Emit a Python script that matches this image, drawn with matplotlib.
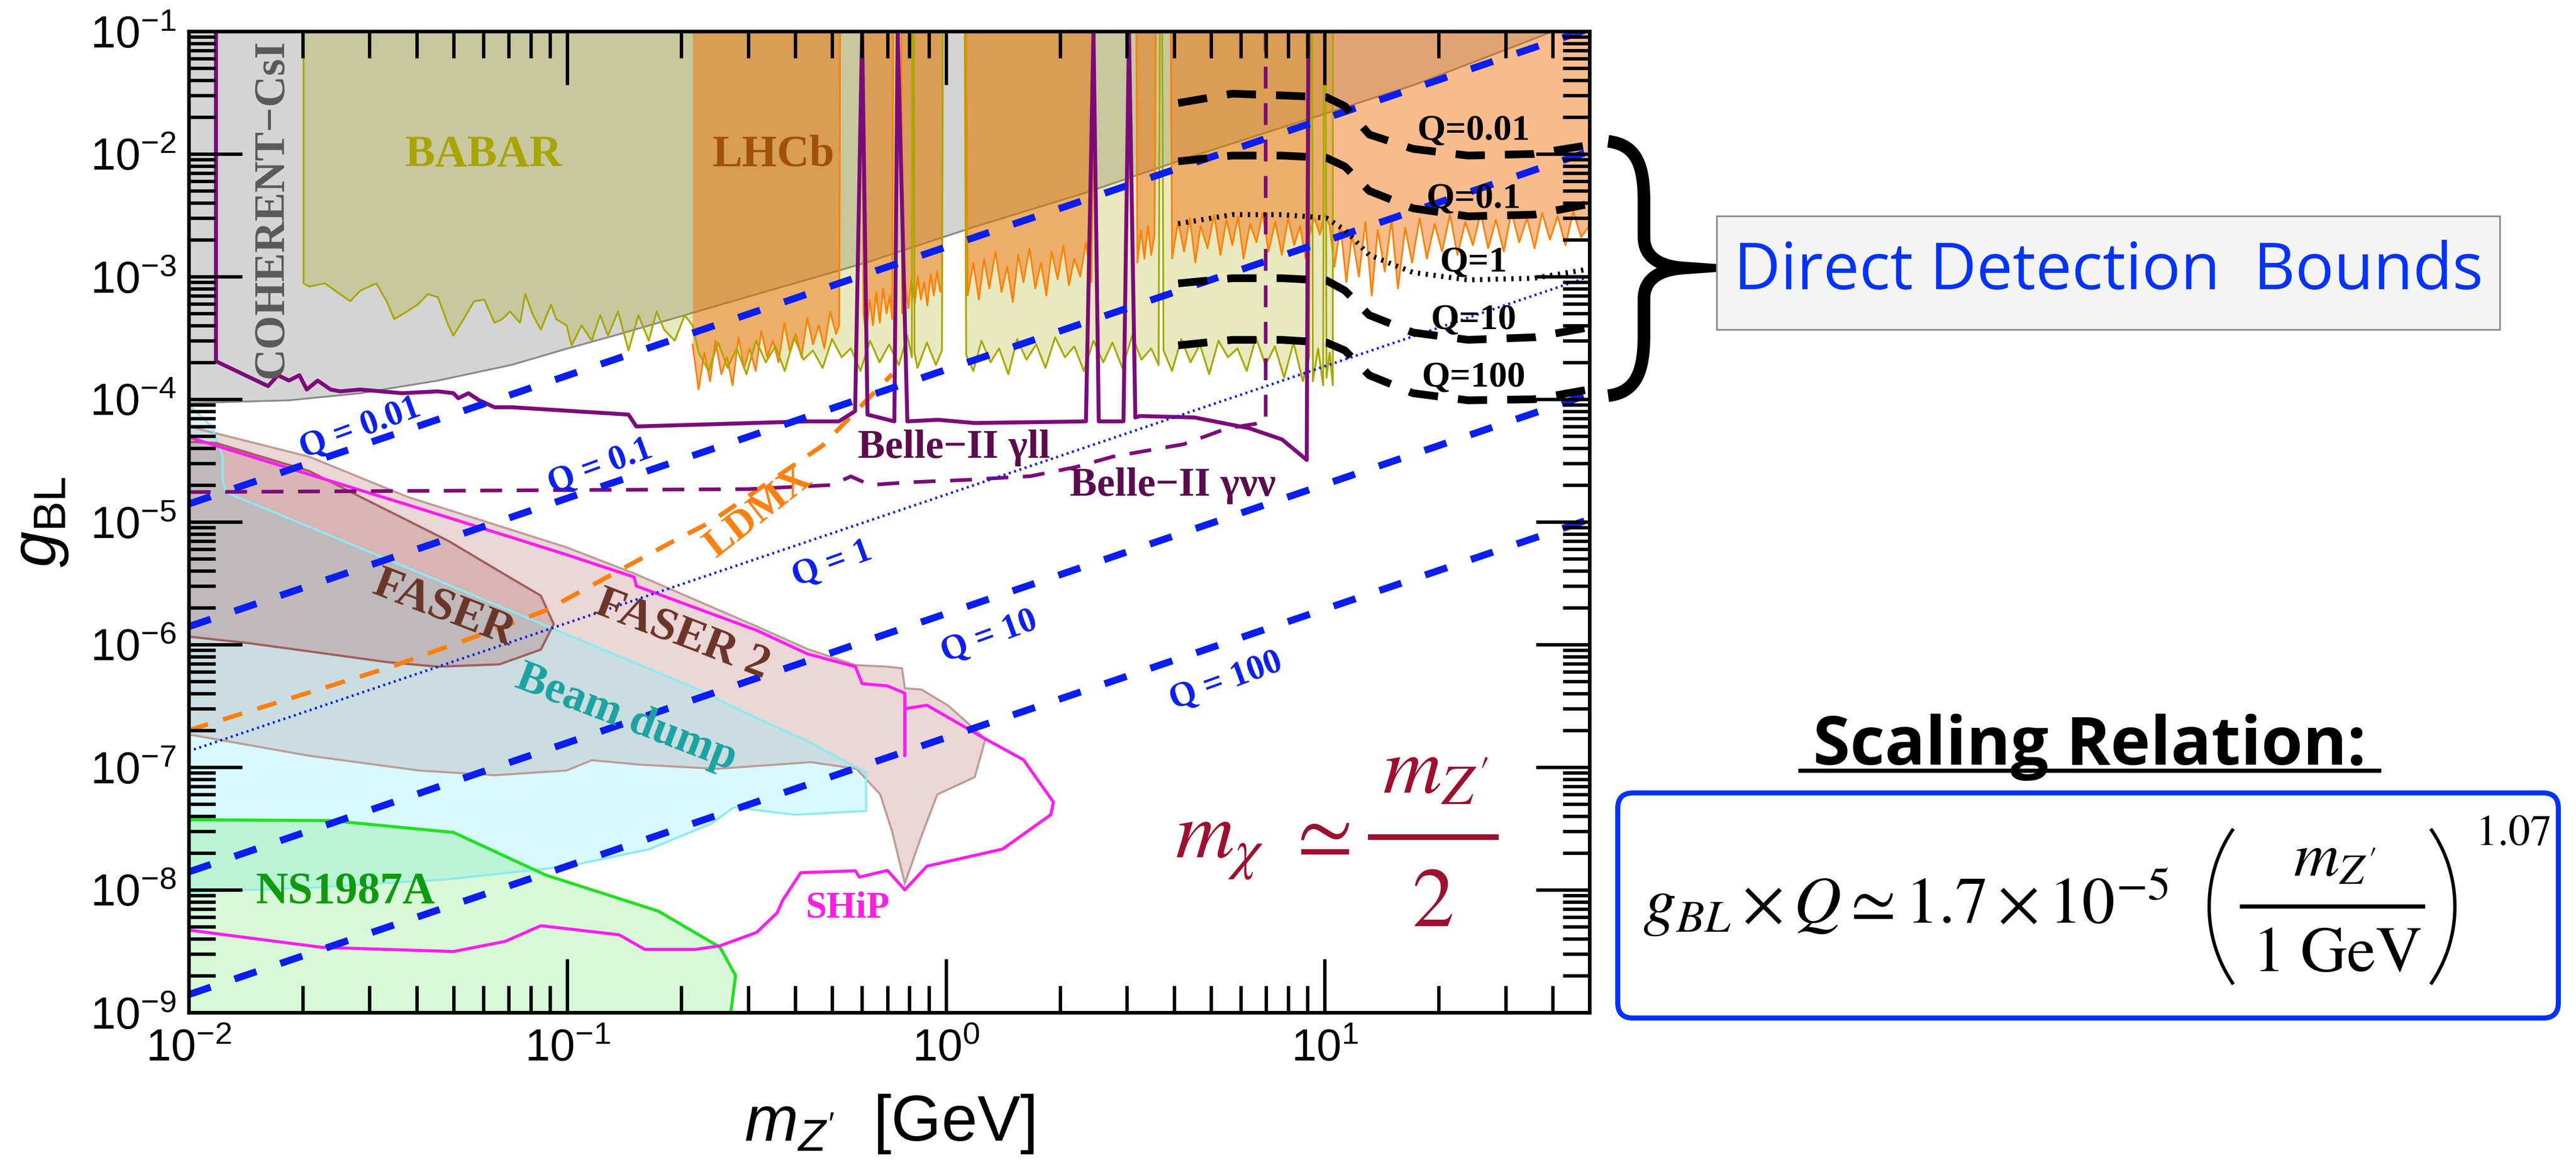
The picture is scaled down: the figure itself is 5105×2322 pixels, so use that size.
import matplotlib
matplotlib.use('Agg')
import matplotlib.pyplot as plt
from matplotlib.path import Path
from matplotlib.patches import PathPatch, Rectangle, FancyBboxPatch, Polygon
from matplotlib.lines import Line2D
from matplotlib.transforms import IdentityTransform
from matplotlib.ticker import LogLocator, NullFormatter, FixedLocator

W, H, DPI = 5105, 2322, 200

plt.rcParams['font.family'] = ['Liberation Sans', 'DejaVu Sans']
plt.rcParams['mathtext.fontset'] = 'custom'
plt.rcParams['mathtext.rm'] = 'Liberation Sans'
plt.rcParams['mathtext.it'] = 'Liberation Sans:italic'
plt.rcParams['mathtext.bf'] = 'Liberation Sans:bold'
SERIF = ['Liberation Serif', 'DejaVu Serif']

# ---------------- values (m_Z' in GeV, g_BL) ----------------
coh_m = [0.01, 0.0184, 0.0284, 0.0455, 0.0714, 0.0995, 0.136, 0.211, 0.317, 0.615,
         1.19, 2.32, 4.53, 8.83, 17.2, 35.7, 40.0]
coh_g = [9.3e-5, 9.8e-5, 1.12e-4, 1.42e-4, 1.91e-4, 2.58e-4, 3.37e-4, 5.0e-4, 7.2e-4, 1.3e-3,
         2.55e-3, 4.8e-3, 9.7e-3, 1.88e-2, 3.65e-2, 8.7e-2, 1.0e-1]

babar_m = [0.0201, 0.0201, 0.0208, 0.0229, 0.0251, 0.0267, 0.0284, 0.0313, 0.0333, 0.0349,
           0.0377, 0.0402, 0.0428, 0.0455, 0.0485, 0.0500, 0.0532, 0.0567, 0.0603, 0.0642,
           0.0673, 0.0705, 0.0750, 0.0774, 0.0811, 0.0851, 0.0905, 0.0934, 0.0995, 0.1026,
           0.109, 0.116, 0.122, 0.128, 0.136, 0.145, 0.154, 0.164, 0.172, 0.180, 0.192, 0.204, 0.214,
           0.222, 0.236, 0.250, 0.265, 0.280, 0.297, 0.315, 0.334, 0.354, 0.375,
           0.397, 0.420, 0.445, 0.472, 0.500, 0.530, 0.560, 0.594, 0.630, 0.667, 0.707, 0.750, 0.790,
           0.812, 0.815, 0.822, 0.825,
           0.840, 0.890, 0.940, 0.975,
           0.980, 1.120,
           1.130, 1.18, 1.24, 1.31, 1.38, 1.46, 1.54, 1.63, 1.73, 1.83,
           1.94, 2.06, 2.18, 2.31, 2.45, 2.60, 2.75, 2.92, 3.10, 3.28, 3.48, 3.64,
           3.67, 3.72,
           3.75, 3.95, 4.18, 4.42, 4.68, 4.95, 5.24, 5.55, 5.88, 6.22,
           6.58, 6.97, 7.38, 7.81, 8.27, 8.75, 9.10,
           9.15, 9.25,
           9.30, 9.60, 9.90,
           9.95, 10.05,
           10.1, 10.3, 10.5, 10.5]
babar_g = [0.1, 8.8e-4, 8.3e-4, 8.8e-4, 7.2e-4, 6.3e-4, 7.7e-4, 8.8e-4, 6.3e-4, 4.5e-4,
           5.2e-4, 5.9e-4, 7.2e-4, 6.8e-4, 4.0e-4, 3.3e-4, 4.5e-4, 6.3e-4, 6.5e-4, 4.2e-4,
           4.5e-4, 5.2e-4, 4.2e-4, 7.2e-4, 4.85e-4, 3.7e-4, 5.9e-4, 4.5e-4, 4.0e-4, 2.75e-4,
           4.0e-4, 3.0e-4, 4.85e-4, 3.3e-4, 5.2e-4, 2.5e-4, 4.85e-4, 3.0e-4, 5.2e-4, 3.7e-4, 3.0e-4, 4.85e-4, 4.0e-4,
           2.4e-4, 1.7e-4, 2.9e-4, 1.8e-4, 2.6e-4, 1.6e-4, 3.0e-4, 2.0e-4, 2.7e-4, 1.7e-4,
           3.2e-4, 2.1e-4, 2.5e-4, 1.8e-4, 3.1e-4, 2.2e-4, 2.6e-4, 1.7e-4, 3.0e-4, 2.0e-4, 2.8e-4, 1.9e-4, 3.3e-4,
           2.2e-4, 0.1, 0.1, 2.4e-4,
           1.8e-4, 2.9e-4, 1.9e-4, 2.5e-4,
           0.1, 0.1,
           2.3e-4, 1.7e-4, 3.0e-4, 2.0e-4, 2.6e-4, 1.6e-4, 3.1e-4, 2.1e-4, 2.8e-4, 1.8e-4,
           3.2e-4, 2.2e-4, 2.7e-4, 1.7e-4, 3.0e-4, 2.0e-4, 2.9e-4, 1.8e-4, 3.3e-4, 2.1e-4, 2.6e-4, 1.9e-4,
           0.1, 0.1,
           2.5e-4, 1.7e-4, 3.1e-4, 2.0e-4, 2.8e-4, 1.6e-4, 3.0e-4, 2.2e-4, 2.6e-4, 1.7e-4,
           3.2e-4, 1.9e-4, 2.7e-4, 1.5e-4, 2.9e-4, 1.4e-4, 2.2e-4,
           0.1, 0.1,
           1.4e-4, 2.6e-4, 1.3e-4,
           0.1, 0.1,
           1.5e-4, 2.4e-4, 1.3e-4, 0.1]

lhcb_m = [0.214, 0.222, 0.230, 0.238, 0.246, 0.255, 0.264, 0.273, 0.283, 0.293,
          0.303, 0.314, 0.325, 0.337, 0.349, 0.361, 0.374, 0.387, 0.401, 0.415,
          0.430, 0.445, 0.461, 0.477, 0.494, 0.512,
          0.522, 0.525, 0.600, 0.605,
          0.615, 0.628, 0.641, 0.654, 0.668, 0.682, 0.696, 0.710, 0.720,
          0.725, 0.762,
          0.765, 0.780, 0.795, 0.810, 0.826, 0.842, 0.858, 0.875, 0.892, 0.910, 0.928, 0.946, 0.965, 0.975,
          0.980, 1.130,
          1.14, 1.18, 1.22, 1.26, 1.30, 1.35, 1.40, 1.45, 1.50, 1.55, 1.60, 1.66, 1.72, 1.78, 1.84,
          1.90, 1.97, 2.04, 2.11, 2.18, 2.26, 2.34, 2.42,
          2.47, 3.18,
          3.20, 3.27, 3.34, 3.41, 3.48, 3.55,
          3.58, 3.92,
          3.95, 4.10, 4.25, 4.40, 4.55, 4.70, 4.90, 5.10, 5.30, 5.50, 5.70, 5.90,
          6.10, 6.35, 6.60, 6.85, 7.10, 7.40, 7.70, 8.00, 8.30, 8.60, 8.90, 9.20,
          9.40, 9.70, 10.0, 10.3,
          10.6, 11.0, 11.4, 11.8, 12.3, 12.8, 13.3, 13.8, 14.4, 15.0, 15.6, 16.3,
          17.0, 17.8, 18.6, 19.5, 20.4, 21.4, 22.4, 23.5, 24.6, 25.8, 27.0, 28.3,
          29.7, 31.1, 32.6, 34.2, 35.8, 37.5, 39.3, 41.2, 43.2, 45.3, 47.5, 50.0]
lhcb_g = [2.8e-4, 1.2e-4, 2.4e-4, 1.4e-4, 3.0e-4, 1.6e-4, 2.2e-4, 1.3e-4, 3.2e-4, 1.8e-4,
          2.6e-4, 1.7e-4, 3.6e-4, 2.2e-4, 3.0e-4, 2.0e-4, 4.2e-4, 2.4e-4, 3.4e-4, 2.2e-4,
          4.6e-4, 2.8e-4, 4.0e-4, 2.6e-4, 5.2e-4, 3.4e-4,
          4.0e-4, 0.1, 0.1, 5.0e-4,
          3.2e-4, 6.5e-4, 4.0e-4, 7.5e-4, 4.2e-4, 8.0e-4, 5.0e-4, 7.0e-4, 4.5e-4,
          0.1, 0.1,
          5.0e-4, 8.5e-4, 5.5e-4, 9.5e-4, 6.0e-4, 1.0e-3, 6.5e-4, 9.0e-4, 5.8e-4, 1.05e-3, 7.0e-4, 1.1e-3, 7.5e-4, 9.0e-4,
          0.1, 0.1,
          7.0e-4, 1.3e-3, 6.5e-4, 1.4e-3, 8.0e-4, 1.6e-3, 7.5e-4, 1.2e-3, 6.2e-4, 1.5e-3, 9.0e-4, 1.7e-3, 8.0e-4, 1.3e-3, 7.0e-4,
          1.6e-3, 9.5e-4, 1.8e-3, 8.5e-4, 1.4e-3, 1.0e-3, 1.9e-3, 9.0e-4,
          0.1, 0.1,
          1.3e-3, 2.4e-3, 1.4e-3, 2.6e-3, 1.5e-3, 2.2e-3,
          0.1, 0.1,
          1.4e-3, 2.8e-3, 1.6e-3, 3.0e-3, 1.3e-3, 2.6e-3, 1.7e-3, 3.2e-3, 1.5e-3, 2.9e-3, 1.8e-3, 3.1e-3,
          1.4e-3, 2.7e-3, 1.9e-3, 3.3e-3, 1.6e-3, 2.8e-3, 1.5e-3, 3.0e-3, 1.8e-3, 2.6e-3, 1.4e-3, 2.5e-3,
          3.0e-3, 2.2e-3, 3.2e-3, 2.6e-3,
          1.2e-3, 2.6e-3, 9.0e-4, 2.2e-3, 1.0e-3, 2.8e-3, 7.0e-4, 2.4e-3, 1.1e-3, 2.9e-3, 8.0e-4, 2.5e-3,
          1.3e-3, 3.0e-3, 1.4e-3, 2.7e-3, 1.6e-3, 3.2e-3, 1.5e-3, 2.8e-3, 1.8e-3, 3.3e-3, 1.7e-3, 2.9e-3,
          1.6e-3, 3.4e-3, 1.9e-3, 3.0e-3, 1.7e-3, 3.3e-3, 2.0e-3, 3.1e-3, 1.8e-3, 3.4e-3, 2.1e-3, 2.6e-3]

belle_ll_m = [0.0118, 0.0118, 0.0162, 0.0172, 0.0184, 0.0196, 0.0205, 0.0219, 0.0237, 0.0251,
              0.0284, 0.0366, 0.0455, 0.050, 0.0515, 0.0548, 0.0585, 0.0642, 0.0714, 0.145,
              0.152, 0.43, 0.521, 0.575, 0.600, 0.62, 0.73, 0.745, 0.79, 0.95, 1.19, 2.34,
              2.45, 2.53, 2.94, 3.04, 3.16, 3.25, 4.53, 6.32, 7.71, 8.96, 9.05]
belle_ll_g = [0.1, 2.04e-4, 1.28e-4, 1.57e-4, 1.42e-4, 1.57e-4, 1.2e-4, 1.42e-4, 1.2e-4, 1.16e-4,
              1.2e-4, 1.12e-4, 1.16e-4, 1.12e-4, 1.02e-4, 1.12e-4, 9.8e-5, 8.6e-5, 8.6e-5, 7.5e-5,
              6.0e-5, 6.6e-5, 6.6e-5, 8.0e-5, 0.1, 7.5e-5, 6.6e-5, 0.1, 6.6e-5, 6.8e-5, 6.4e-5, 6.6e-5,
              0.1, 6.6e-5, 6.6e-5, 0.1, 7.1e-5, 7.3e-5, 7.1e-5, 5.8e-5, 4.7e-5, 3.2e-5, 0.1]

belle_nn_m = [0.01, 0.3, 0.5, 0.56, 0.63, 0.79, 1.13, 1.67, 2.2, 2.75, 4.24, 5.53, 6.98, 6.98]
belle_nn_g = [1.75e-5, 1.85e-5, 2.0e-5, 2.35e-5, 2.0e-5, 2.1e-5, 2.2e-5, 2.36e-5, 2.8e-5, 3.4e-5,
              4.3e-5, 5.8e-5, 6.5e-5, 0.1]

ldmx_m = [0.01, 0.0343, 0.0633, 0.0877, 0.186, 0.239, 0.472, 0.557, 0.72]
ldmx_g = [2.0e-7, 6.6e-7, 1.3e-6, 1.9e-6, 6.7e-6, 1.0e-5, 4.2e-5, 7.1e-5, 1.6e-4]

faser2_m = [0.01, 0.0208, 0.0378, 0.0995, 0.15, 0.317, 0.43, 0.576, 0.70, 0.765, 0.778, 0.86,
            1.01, 1.27, 1.19, 0.948, 0.859, 0.778, 0.72, 0.67, 0.58, 0.44, 0.248, 0.155,
            0.116, 0.0995, 0.0642, 0.0405, 0.0208, 0.01]
faser2_g = [6.0e-5, 3.4e-5, 1.6e-5, 6.2e-6, 3.8e-6, 1.4e-6, 9.2e-7, 6.8e-7, 6.6e-7, 6.4e-7, 4.4e-7, 4.3e-7,
            3.2e-7, 1.7e-7, 8.3e-8, 6.0e-8, 2.7e-8, 1.13e-8, 3.0e-8, 6.0e-8, 9.7e-8, 1.1e-7, 9.7e-8, 1.05e-7,
            1.14e-7, 9.4e-8, 8.6e-8, 9.4e-8, 1.24e-7, 1.85e-7]

faser_m = [0.01, 0.0118, 0.0208, 0.0284, 0.0485, 0.064, 0.0851, 0.092, 0.0851, 0.0662, 0.0455,
           0.0333, 0.0208, 0.0143, 0.01]
faser_g = [4.5e-5, 4.4e-5, 2.6e-5, 1.6e-5, 7.0e-6, 4.2e-6, 2.5e-6, 1.47e-6, 9.1e-7, 6.9e-7, 6.6e-7,
           7.2e-7, 8.8e-7, 1.03e-6, 1.16e-6]

bdump_m = [0.01, 0.01, 0.0115, 0.0123, 0.0123, 0.0125, 0.0313, 0.218, 0.317, 0.43, 0.615, 0.615,
           0.40, 0.275, 0.239, 0.164, 0.0995, 0.0485, 0.0208, 0.01]
bdump_g = [9.6e-9, 9.0e-5, 6.0e-5, 3.4e-5, 2.2e-5, 1.75e-5, 5.4e-6, 4.4e-7, 2.5e-7, 1.64e-7, 9.0e-8, 4.4e-8,
           4.1e-8, 4.7e-8, 3.45e-8, 2.14e-8, 1.55e-8, 1.22e-8, 1.04e-8, 9.6e-9]

ns_m = [0.01, 0.0237, 0.050, 0.0877, 0.174, 0.253, 0.278, 0.27]
ns_g = [3.73e-8, 3.67e-8, 2.94e-8, 1.32e-8, 6.7e-9, 3.4e-9, 2.0e-9, 1.0e-9]

ship_m = [0.01, 0.0378, 0.0995, 0.150, 0.152, 0.317, 0.43, 0.576, 0.60, 0.70, 0.765, 0.778, 0.778,
          0.778, 0.89, 1.27, 1.60, 1.92, 1.89, 1.41, 0.89, 0.778, 0.70, 0.59, 0.576, 0.413, 0.37,
          0.358, 0.316, 0.253, 0.218, 0.160, 0.137, 0.0851, 0.0685, 0.050, 0.0224, 0.01]
ship_g = [4.9e-5, 1.38e-5, 5.4e-6, 3.55e-6, 3.0e-6, 1.3e-6, 8.4e-7, 6.6e-7, 4.8e-7, 4.6e-7, 4.1e-7, 4.0e-7, 1.24e-7,
          3.0e-7, 3.2e-7, 1.7e-7, 1.15e-7, 5.2e-8, 4.1e-8, 2.15e-8, 1.56e-8, 1.0e-8, 1.44e-8, 1.27e-8, 1.43e-8, 1.38e-8, 8.2e-9,
          6.5e-9, 4.5e-9, 3.5e-9, 3.27e-9, 3.27e-9, 4.3e-9, 5.1e-9, 3.8e-9, 3.14e-9, 3.4e-9, 4.7e-9]

# charge-scaled lines g*Q ~ const * m^1.07, read at both ends of the x range
q_labels = ['Q = 0.01', 'Q = 0.1', 'Q = 1', 'Q = 10', 'Q = 100']
q_end_m = [0.01, 50.0]
q_g_lo = [1.4e-5, 1.4e-6, 1.35e-7, 1.4e-8, 1.4e-9]
q_g_hi = [1.05e-1, 1.05e-2, 1.0e-3, 1.1e-4, 1.05e-5]
q_label_m = [0.0284, 0.122, 0.50, 1.30, 5.48]
q_label_g = [5.8e-5, 2.8e-5, 4.5e-6, 1.16e-6, 5.0e-7]

# direct detection bounds for several Q
dd_labels = ['Q=0.01', 'Q=0.1', 'Q=1', 'Q=10', 'Q=100']
dd_m = [4.1, 5.7, 7.7, 10.1, 11.3, 13.1, 17.1, 23.9, 35.7, 49.7]
dd_g = [[2.6e-2, 3.1e-2, 3.0e-2, 2.9e-2, 2.45e-2, 1.44e-2, 1.1e-2, 9.7e-3, 1.0e-2, 1.18e-2],
        [8.7e-3, 9.7e-3, 9.7e-3, 9.3e-3, 7.9e-3, 5.0e-3, 3.6e-3, 3.1e-3, 3.2e-3, 3.9e-3],
        [2.7e-3, 3.2e-3, 3.2e-3, 3.0e-3, 2.4e-3, 1.5e-3, 1.08e-3, 9.4e-4, 9.7e-4, 1.15e-3],
        [8.8e-4, 9.7e-4, 9.7e-4, 9.3e-4, 7.7e-4, 4.85e-4, 3.5e-4, 3.05e-4, 3.2e-4, 3.85e-4],
        [2.75e-4, 3.05e-4, 3.05e-4, 2.9e-4, 2.5e-4, 1.57e-4, 1.12e-4, 9.8e-5, 1.0e-4, 1.2e-4]]
dd_label_m = 24.7
dd_label_g = [1.54e-2, 4.3e-3, 1.3e-3, 4.4e-4, 1.5e-4]

# ---------------- figure ----------------
fig = plt.figure(figsize=(W / DPI, H / DPI), dpi=DPI)
ax = fig.add_axes([374 / W, 1 - 2006 / H, 2776 / W, 1944 / H])
ax.set_xscale('log')
ax.set_yscale('log')
ax.set_xlim(1e-2, 50)
ax.set_ylim(1e-9, 1e-1)

# upper exclusion regions
ax.fill_between(coh_m, coh_g, 0.1, color='#9a9a9a', alpha=0.42, lw=0, zorder=1)
ax.plot(coh_m, coh_g, color='#8a8a8a', lw=1.3, zorder=1.2)
ax.fill_between(babar_m, babar_g, 0.1, color='#a8a800', alpha=0.25, lw=0, zorder=1.5)
ax.fill_between(lhcb_m, lhcb_g, 0.1, color='#f06a00', alpha=0.45, lw=0, zorder=1.6)
ax.plot(lhcb_m, lhcb_g, color='#ff8000', lw=1.2, zorder=3)
ax.plot(babar_m, babar_g, color='#a8a800', lw=1.3, zorder=3.1)

# lower exclusion regions
ax.add_patch(Polygon(list(zip(faser2_m, faser2_g)), closed=True, fc='#c07878', alpha=0.3, lw=0, zorder=2))
ax.add_patch(Polygon(list(zip(bdump_m, bdump_g)), closed=True, fc='#80f0f8', alpha=0.3, lw=0, zorder=2.1))
ax.add_patch(Polygon(list(zip(faser_m, faser_g)), closed=True, fc='#a05050', alpha=0.25, lw=0, zorder=2.2))
ax.fill_between(ns_m, ns_g, 1e-9, color='#60e860', alpha=0.25, lw=0, zorder=2.3)
ax.add_patch(Polygon(list(zip(faser2_m, faser2_g)), closed=True, fill=False, ec='#c09c98', lw=1.5, zorder=3))
ax.add_patch(Polygon(list(zip(bdump_m, bdump_g)), closed=True, fill=False, ec='#88ecf2', lw=1.5, zorder=3))
ax.add_patch(Polygon(list(zip(faser_m, faser_g)), closed=True, fill=False, ec='#a0605c', lw=1.6, zorder=3))
ax.plot(ns_m, ns_g, color='#22e022', lw=2.2, zorder=3.2)
ax.plot(ship_m, ship_g, color='#ff1ef0', lw=2.2, zorder=3.3)

# projections / bounds lines
ax.plot(ldmx_m, ldmx_g, color='#ff8010', lw=3.2, dashes=(4.5, 3.5), zorder=4)
ax.plot(belle_ll_m, belle_ll_g, color='#7d0a7a', lw=2.8, zorder=4.1)
ax.plot(belle_nn_m, belle_nn_g, color='#7d0a7a', lw=2.6, dashes=(6, 4), zorder=4.1)

for i, lab in enumerate(q_labels):
    gg = [q_g_lo[i], q_g_hi[i]]
    if lab == 'Q = 1':
        ax.plot(q_end_m, gg, color='#0a1ef0', lw=1.8, dashes=(0.8, 1.4), zorder=5)
    else:
        ax.plot(q_end_m, gg, color='#0a1ef0', lw=5, dashes=(3.3, 3.6), zorder=5)
    ax.text(q_label_m[i], q_label_g[i], lab, color='#0a1ef0', fontsize=25, fontweight='bold',
            family=SERIF, rotation=20, ha='center', va='center', rotation_mode='anchor', zorder=6)

for i, lab in enumerate(dd_labels):
    if lab == 'Q=1':
        ax.plot(dd_m, dd_g[i], color='k', lw=3.6, dashes=(0.45, 1.1), zorder=5)
    else:
        ax.plot(dd_m, dd_g[i], color='k', lw=5.5, dashes=(3.8, 2.6), zorder=5)
    ax.text(dd_label_m, dd_label_g[i], lab, color='k', fontsize=26, fontweight='bold', family=SERIF,
            ha='center', va='center', zorder=6)

# region labels
lab_kw = dict(fontweight='bold', family=SERIF, ha='center', va='center', zorder=6, rotation_mode='anchor')
ax.text(0.0166, 3.6e-3, 'COHERENT\u2212CsI', color='#5a5a5a', fontsize=31, rotation=90, **lab_kw)
ax.text(0.060, 9.8e-3, 'BABAR', color='#a8a400', fontsize=32, **lab_kw)
ax.text(0.35, 9.8e-3, 'LHCb', color='#a0520a', fontsize=32, **lab_kw)
ax.text(1.05, 4.0e-5, 'Belle\u2212II \u03b3ll', color='#5c0b4e', fontsize=29, **lab_kw)
ax.text(3.97, 1.97e-5, 'Belle\u2212II \u03b3\u03bd\u03bd', color='#5c0b4e', fontsize=29, **lab_kw)
ax.text(0.32, 1.2e-5, 'LDMX', color='#ff8010', fontsize=29, rotation=38, **lab_kw)
ax.text(0.0472, 1.95e-6, 'FASER', color='#6b3528', fontsize=33, rotation=-21, **lab_kw)
ax.text(0.201, 1.2e-6, 'FASER 2', color='#6b3528', fontsize=33, rotation=-21, **lab_kw)
ax.text(0.143, 2.5e-7, 'Beam dump', color='#1aa3a3', fontsize=32, rotation=-21, **lab_kw)
ax.text(0.0259, 9.6e-9, 'NS1987A', color='#109a10', fontsize=32, **lab_kw)
ax.text(0.548, 7.1e-9, 'SHiP', color='#ff1ee0', fontsize=27, **lab_kw)

# axes styling
ax.xaxis.set_major_locator(FixedLocator([1e-2, 1e-1, 1, 10]))
ax.xaxis.set_minor_locator(LogLocator(base=10, subs=range(2, 10), numticks=20))
ax.yaxis.set_major_locator(LogLocator(base=10, numticks=20))
ax.yaxis.set_minor_locator(LogLocator(base=10, subs=range(2, 10), numticks=20))
ax.xaxis.set_minor_formatter(NullFormatter())
ax.yaxis.set_minor_formatter(NullFormatter())
ax.tick_params(which='both', direction='in', top=True, right=True, width=2.4, color='k')
ax.tick_params(which='major', length=38, labelsize=32)
ax.tick_params(axis='x', which='major', pad=11)
ax.tick_params(axis='y', which='major', pad=9)
ax.tick_params(which='minor', length=19)
for sp in ax.spines.values():
    sp.set_linewidth(2.6)
    sp.set_zorder(10)
ax.xaxis.set_zorder(10)
ax.yaxis.set_zorder(10)
ax.set_xlabel(r"$m_{Z'}$  [GeV]", fontsize=46, labelpad=16)
ax.set_ylabel(r'$g_{\mathrm{BL}}$', fontsize=46, labelpad=14)

# ---------------- annotations placed in image pixel coordinates ----------------
T = IdentityTransform()


def px(x, y):
    return (x, H - y)


def ptext(x, y, s, **kw):
    fig.text(x, H - y, s, transform=T, **kw)


def hline(x0, x1, y, **kw):
    fig.add_artist(Line2D([x0, x1], [H - y, H - y], transform=T, **kw))


def paren(x_end, x_mid, y0, y1, **kw):
    pth = Path([px(x_end, y0), px(x_mid, y0 + 0.3 * (y1 - y0)), px(x_mid, y0 + 0.7 * (y1 - y0)),
                px(x_end, y1)], [Path.MOVETO, Path.CURVE4, Path.CURVE4, Path.CURVE4])
    fig.add_artist(PathPatch(pth, fill=False, transform=T, capstyle='butt', **kw))


# m_chi ~ m_Z'/2 inside the plot
CHI = '#a00f2d'
ptext(2329, 1700, r'$m_\chi$', color=CHI, fontsize=58, math_fontfamily='stix',
      ha='left', va='baseline', zorder=6)
ptext(2611, 1700, r'$\simeq$', color=CHI, fontsize=58, math_fontfamily='stix',
      ha='center', va='baseline', zorder=6)
ptext(2845, 1573, r'$m_{Z^\prime}$', color=CHI, fontsize=58, math_fontfamily='stix',
      ha='center', va='baseline', zorder=6)
hline(2716, 2964, 1658, color=CHI, lw=4, zorder=6)
ptext(2839, 1835, r'$2$', color=CHI, fontsize=60, math_fontfamily='stix',
      ha='center', va='baseline', zorder=6)

# brace + direct detection box
brace = Path([px(3187, 280), px(3245, 287), px(3258, 330), px(3258, 400),
              px(3258, 470),
              px(3258, 510), px(3290, 528), px(3337, 531),
              px(3290, 534), px(3258, 552), px(3258, 592),
              px(3258, 662),
              px(3258, 732), px(3245, 777), px(3187, 784)],
             [Path.MOVETO, Path.CURVE4, Path.CURVE4, Path.CURVE4,
              Path.LINETO,
              Path.CURVE4, Path.CURVE4, Path.CURVE4,
              Path.CURVE4, Path.CURVE4, Path.CURVE4,
              Path.LINETO,
              Path.CURVE4, Path.CURVE4, Path.CURVE4])
fig.add_artist(PathPatch(brace, fill=False, ec='k', lw=9, transform=T, capstyle='butt'))

fig.add_artist(Rectangle(px(3402, 653), 1552, 225, fc='#f4f4f4', ec='#8c8c8c', lw=1.2, transform=T))
ptext(4178, 540, 'Direct Detection  Bounds', color='#0033ff', fontsize=46,
      family=['Open Sans', 'DejaVu Sans'], ha='center', va='center')

# scaling relation
ptext(4141, 1515, 'Scaling Relation:', color='k', fontsize=48, fontweight='bold',
      family=['Open Sans', 'DejaVu Sans'], ha='center', va='baseline')
hline(3568, 4715, 1527, color='k', lw=3)

fig.add_artist(FancyBboxPatch(px(3206, 2017), 1864, 446, boxstyle='round,pad=0,rounding_size=30',
                              fc='white', ec='#0033ff', lw=3.6, transform=T))
ptext(3256, 1830, r'$g_{BL}\times Q \simeq 1.7 \times 10^{-5}$', fontsize=47,
      math_fontfamily='stix', ha='left', va='baseline')
paren(4426, 4362, 1642, 1950, ec='k', lw=2.4)
paren(4817, 4881, 1642, 1950, ec='k', lw=2.4)
ptext(4627, 1736, r'$m_{Z^\prime}$', fontsize=45, math_fontfamily='stix', ha='center', va='baseline')
hline(4443, 4802, 1796, color='k', lw=3)
ptext(4631, 1924, r'$1\ \mathrm{GeV}$', fontsize=46, math_fontfamily='stix', ha='center', va='baseline')
ptext(4906, 1674, r'$1.07$', fontsize=31, math_fontfamily='stix', ha='left', va='baseline')

fig.savefig('out.png', dpi=DPI, facecolor='white')
